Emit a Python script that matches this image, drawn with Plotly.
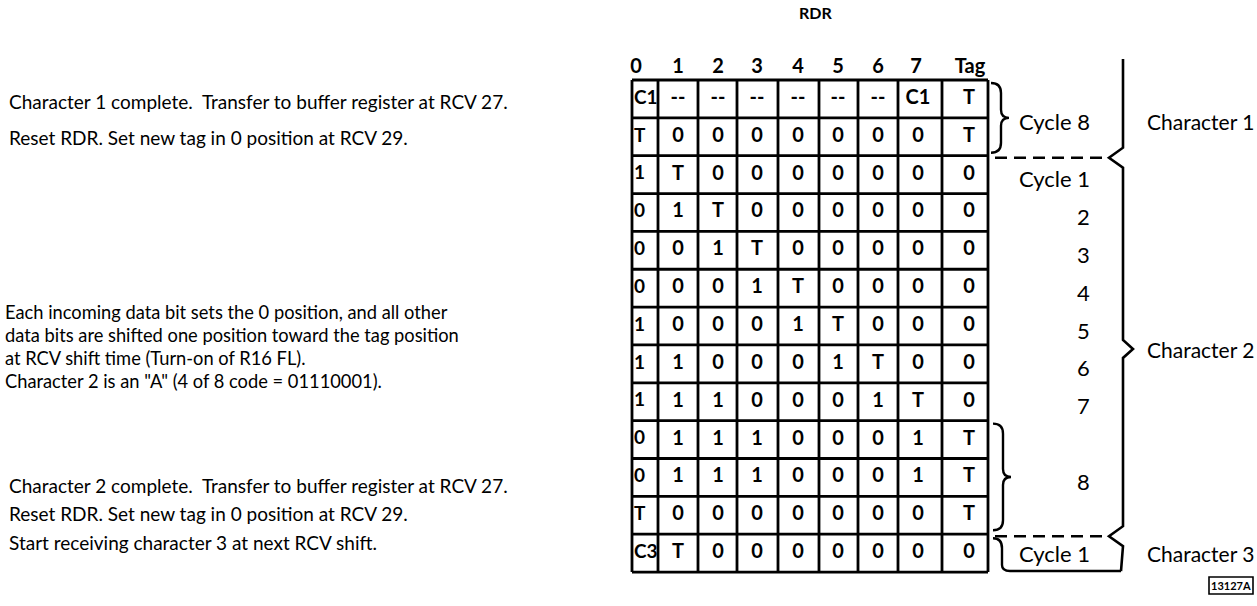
import plotly.graph_objects as go

# ---------------- data ----------------
title = "RDR"
col_labels = ["0", "1", "2", "3", "4", "5", "6", "7", "Tag"]
rdr_rows = [
    ["C1", "--", "--", "--", "--", "--", "--", "C1", "T"],
    ["T", "0", "0", "0", "0", "0", "0", "0", "T"],
    ["1", "T", "0", "0", "0", "0", "0", "0", "0"],
    ["0", "1", "T", "0", "0", "0", "0", "0", "0"],
    ["0", "0", "1", "T", "0", "0", "0", "0", "0"],
    ["0", "0", "0", "1", "T", "0", "0", "0", "0"],
    ["1", "0", "0", "0", "1", "T", "0", "0", "0"],
    ["1", "1", "0", "0", "0", "1", "T", "0", "0"],
    ["1", "1", "1", "0", "0", "0", "1", "T", "0"],
    ["0", "1", "1", "1", "0", "0", "0", "1", "T"],
    ["0", "1", "1", "1", "0", "0", "0", "1", "T"],
    ["T", "0", "0", "0", "0", "0", "0", "0", "T"],
    ["C3", "T", "0", "0", "0", "0", "0", "0", "0"],
]
# cycle label, first row, last row
cycle_labels = [
    ("Cycle 8", 0, 1), ("Cycle 1", 2, 2), ("2", 3, 3), ("3", 4, 4), ("4", 5, 5),
    ("5", 6, 6), ("6", 7, 7), ("7", 8, 8), ("8", 9, 11), ("Cycle 1", 12, 12),
]
char_labels = [("Character 1", 0, 1), ("Character 2", 2, 11), ("Character 3", 12, 12)]
notes_top = [
    "Character 1 complete.  Transfer to buffer register at RCV 27.",
    "Reset RDR. Set new tag in 0 position at RCV 29.",
]
notes_mid = [
    "Each incoming data bit sets the 0 position, and all other",
    "data bits are shifted one position toward the tag position",
    "at RCV shift time (Turn-on of R16 FL).",
    'Character 2 is an "A" (4 of 8 code = 01110001).',
]
notes_bot = [
    "Character 2 complete.  Transfer to buffer register at RCV 27.",
    "Reset RDR. Set new tag in 0 position at RCV 29.",
    "Start receiving character 3 at next RCV shift.",
]
fig_id = "13127A"

# ---------------- layout constants ----------------
W, H = 1257, 606
col_edges = [632, 658, 698, 737, 778, 819, 858, 898, 942, 988]
col_text_x = [634, 678, 718, 757, 798, 838, 878, 918, 969]
head_x = [636, 678, 718, 757, 798, 838, 878, 916, 970]
row_top, row_h = 80, 37.85
n_rows = len(rdr_rows)
row_bot = row_top + row_h * n_rows
FONT = "Lato"

def rc(i):
    return row_top + row_h * (i + 0.5)

def redge(i):
    return row_top + row_h * i

fig = go.Figure()
cell_font = dict(family=FONT, size=20, color="black", weight=700)

# cell texts: first column hugs the left border, the rest are centred
xs, ys, ts = [], [], []
x0s, y0s, t0s = [], [], []
for i, row in enumerate(rdr_rows):
    for j, v in enumerate(row):
        if j == 0:
            x0s.append(col_text_x[0]); y0s.append(rc(i)); t0s.append(v)
        else:
            xs.append(col_text_x[j]); ys.append(rc(i)); ts.append(v)
fig.add_trace(go.Scatter(x=x0s, y=y0s, text=t0s, mode="text", textposition="middle right",
                         textfont=dict(family=FONT, size=19, color="black", weight=700),
                         hoverinfo="skip", showlegend=False))
fig.add_trace(go.Scatter(x=xs, y=ys, text=ts, mode="text", textposition="middle center",
                         textfont=cell_font, hoverinfo="skip", showlegend=False))
# header
fig.add_trace(go.Scatter(x=head_x, y=[68] * len(col_labels), text=col_labels,
                         mode="text", textfont=cell_font,
                         hoverinfo="skip", showlegend=False))

shapes = []
LW = 2.8
# grid
for x in col_edges:
    shapes.append(dict(type="line", x0=x, x1=x, y0=row_top, y1=row_bot,
                       line=dict(color="black", width=LW)))
for i in range(n_rows + 1):
    shapes.append(dict(type="line", x0=col_edges[0], x1=col_edges[-1], y0=redge(i), y1=redge(i),
                       line=dict(color="black", width=LW)))

def brace_right(x0, ya, yb, depth=10, tip=8):
    ym = (ya + yb) / 2
    xm = x0 + depth
    return (f"M {x0} {ya} Q {xm} {ya} {xm} {ya+10} L {xm} {ym-8} "
            f"Q {xm} {ym} {xm+tip} {ym} Q {xm} {ym} {xm} {ym+8} "
            f"L {xm} {yb-10} Q {xm} {yb} {x0} {yb}")

# cycle 8 braces
shapes.append(dict(type="path", path=brace_right(991, redge(0) + 3, redge(2) - 3),
                   line=dict(color="black", width=2.4)))
shapes.append(dict(type="path", path=brace_right(993, redge(9) + 3, redge(12) - 4),
                   line=dict(color="black", width=2.4)))
# bottom cycle 1 box
yb0, yb1 = redge(12) + 4, row_bot - 1
shapes.append(dict(type="path",
                   path=f"M 993 {yb0} Q 1002 {yb0} 1002 {yb0+10} L 1002 {yb1-6} Q 1002 {yb1} 1010 {yb1} "
                        f"L 1121 {yb1}",
                   line=dict(color="black", width=2.4)))

# dashed separators
for i in (2, 12):
    shapes.append(dict(type="line", x0=995, x1=1106, y0=redge(i) + 2, y1=redge(i) + 2,
                       line=dict(color="black", width=2.6, dash="12px,7px")))

# big character brace
BX = 1123
y_t1, y_t2, y_t3 = redge(2) + 2, redge(7) + 4, redge(12) + 2
path = (f"M {BX} 59 L {BX} {y_t1-10} L {BX-14} {y_t1} L {BX} {y_t1+10} "
        f"L {BX} {y_t2-9} L {BX+10} {y_t2} L {BX} {y_t2+9} "
        f"L {BX} {y_t3-10} L {BX-14} {y_t3} L {BX} {y_t3+10} L {BX-2} {row_bot-1}")
shapes.append(dict(type="path", path=path, line=dict(color="black", width=2.6)))

# figure id box
shapes.append(dict(type="rect", x0=1209, x1=1253, y0=577, y1=594,
                   line=dict(color="black", width=1.6)))

annotations = []
def txt(x, y, s, size=15, anchor="left", weight=400):
    annotations.append(dict(x=x, y=y, text=s, showarrow=False, xanchor=anchor, yanchor="middle",
                            font=dict(family=FONT, size=size, color="black", weight=weight)))

txt(815, 12, title, 16, "center", 700)
for s, a, b in cycle_labels:
    y = (rc(a) + rc(b)) / 2 + (0 if a == 12 else 4)
    txt(1092, y, s, 22, "right")
for s, a, b in char_labels:
    y = (rc(a) + rc(b)) / 2 + (0 if a == 12 else 4)
    if s == "Character 2":
        y = y_t2 + 1
    txt(1145, y, s, 21, "left")

for k, s in enumerate(notes_top):
    txt(7, 101 + 36 * k, s, 19)
for k, s in enumerate(notes_mid):
    txt(3, 312 + 23 * k, s, 18.3)
for k, s in enumerate(notes_bot):
    txt(7, 485 + 28.5 * k, s, 19)
txt(1231, 585.5, fig_id, 11, "center", 700)

fig.update_layout(
    width=W, height=H, margin=dict(l=0, r=0, t=0, b=0),
    paper_bgcolor="white", plot_bgcolor="white",
    xaxis=dict(range=[0, W], visible=False, fixedrange=True),
    yaxis=dict(range=[H, 0], visible=False, fixedrange=True),
    shapes=shapes, annotations=annotations, showlegend=False,
)
fig.write_html("out.html", config={"displayModeBar": False},
               post_script="document.body.style.margin='0';")
